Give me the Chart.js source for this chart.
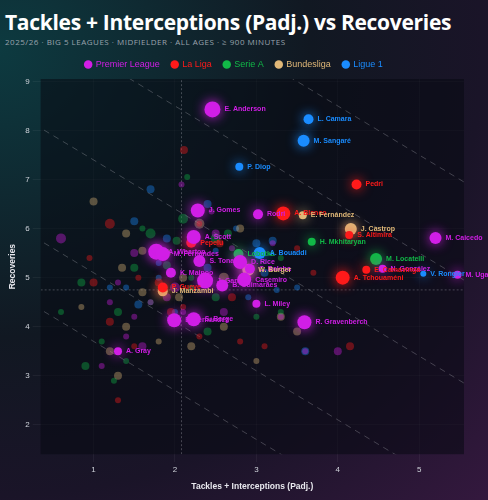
<!DOCTYPE html>
<html><head><meta charset="utf-8">
<script src="https://cdn.jsdelivr.net/npm/chart.js@4"></script>
<style>
html,body{margin:0;padding:0;width:488px;height:500px;overflow:hidden;
background:radial-gradient(ellipse at 0% 10%, #0d3a40 0%, #111822 45%, #1a1428 70%, #34183e 100%);font-family:"Open Sans",sans-serif}
#t{position:absolute;left:5px;top:8px;color:#fff;font:bold 21px "Open Sans",sans-serif;letter-spacing:-0.3px}
#s{position:absolute;left:5px;top:36px;color:#9aa3ad;font:8px "Open Sans",sans-serif;letter-spacing:0.5px}
#w{position:absolute;left:0;top:48px;width:488px;height:452px}
</style></head><body>
<div id="t">Tackles + Interceptions (Padj.) vs Recoveries</div>
<div id="s">2025/26 · BIG 5 LEAGUES · MIDFIELDER · ALL AGES · ≥ 900 MINUTES</div>
<div id="w"><canvas id="c"></canvas></div>
<script>
const leagues=["Premier League","La Liga","Serie A","Bundesliga","Ligue 1"];
const colors=["#d11ee6","#ff1a1a","#11b847","#e0b878","#1a8cff"];
// highlighted players: [name, x, y, radius]
const hlPL=[["E. Anderson",2.46,8.43,8],["J. Gomes",2.28,6.37,7],["Rodri",3.02,6.29,5],["M. Caicedo",5.2,5.81,6],["A. Scott",2.23,5.83,7],["A. Wharton",1.77,5.53,8],["M. Fernandes",1.85,5.48,7],["S. Tonali",2.3,5.34,6],["D. Rice",2.8,5.32,7],["C. Baleba",2.92,5.18,5],["N. González",4.55,5.18,4],["M. Ugarte",5.47,5.06,4],["K. Mainoo",1.95,5.1,5],["J. Garner",2.37,4.94,8],["Casemiro",2.85,4.96,7],["B. Guimarães",2.58,4.84,6],["L. Miley",3.0,4.47,4],["S. Berge",2.23,4.15,7],["E. Fernández",1.99,4.13,7],["R. Gravenberch",3.59,4.09,7],["A. Gray",1.3,3.5,4]];
const hlLL=[["A. Blanco",3.33,6.31,7],["Pedri",4.23,6.9,5],["S. Altimira",4.14,5.87,4],["Pepelu",2.2,5.71,5],["E. Camavinga",4.35,5.16,4],["A. Tchouaméni",4.06,5.0,7],["P. Gueye",1.85,4.8,5]];
const hlSA=[["H. Mkhitaryan",3.68,5.73,4],["Lobotka",2.78,5.48,5],["M. Locatelli",4.47,5.38,6]];
const hlBL=[["E. Fernández",3.57,6.27,4],["J. Castrop",4.16,5.99,6],["W. Burger",2.9,5.16,6],["J. Manzambi",1.85,4.72,5]];
const hlL1=[["L. Camara",3.64,8.23,5],["M. Sangaré",3.58,7.79,6],["P. Diop",2.79,7.26,4],["A. Bouaddi",3.04,5.5,6],["V. Rongier",5.05,5.08,3]];
// background (unlabelled) players: [x, y, radius]
const bgPL=[[2.08,6.9,3],[0.6,5.8,5],[1.5,5.5,4],[2.5,5.9,4],[1.3,4.9,3],[1.9,4.6,4],[2.1,4.3,3],[1.5,4.2,3],[1.1,3.2,3],[2.6,4.3,4],[3.2,5.7,3],[1.6,3.6,4],[2.0,4.8,5],[2.45,6.35,3],[1.4,3.8,3],[2.7,5.6,3],[3.3,4.2,3],[1.7,4.5,3],[3.6,3.5,3],[4.0,3.5,4],[1.2,4.5,3]];
const bgLL=[[1.2,6.1,5],[2.11,7.6,4],[0.95,5.4,3],[2.3,6.1,3],[1.55,5.0,3],[1.2,4.1,4],[1.3,2.5,3],[2.55,5.7,4],[1.8,4.9,4],[2.1,4.4,3],[2.7,4.6,4],[3.5,5.6,3],[1.0,4.9,4],[2.8,3.7,3],[3.1,3.6,3],[4.15,3.6,4],[1.5,3.6,3],[2.3,3.8,3],[1.95,4.3,4],[3.7,5.1,3],[2.9,5.0,3]];
const bgSA=[[2.15,7.05,3],[1.6,6.0,3],[2.02,5.75,4],[1.7,5.9,5],[2.1,6.2,5],[0.85,4.9,4],[1.5,5.2,4],[1.3,4.3,4],[1.1,3.7,3],[0.9,3.2,4],[2.2,4.8,3],[2.5,5.8,5],[2.65,5.9,4],[2.2,5.0,3],[1.7,4.5,3],[1.4,3.3,3],[2.5,4.6,4],[3.0,4.2,3],[3.3,4.3,3],[1.25,2.9,3],[2.4,3.9,4],[3.3,5.4,3],[1.9,5.25,4],[0.6,4.3,3]];
const bgBL=[[1.0,6.55,4],[1.4,5.9,4],[1.6,5.55,4],[2.3,6.1,5],[1.35,5.2,4],[1.6,4.7,4],[2.05,4.6,4],[1.4,4.0,4],[1.2,3.5,4],[1.3,3.0,4],[1.8,3.7,3],[2.8,6.0,4],[2.6,5.0,5],[2.0,4.1,4],[2.2,3.6,4],[2.6,4.0,4],[3.3,4.2,4],[3.5,3.9,4],[0.85,4.4,3],[3.0,3.3,3],[1.9,5.5,4],[2.1,5.0,4]];
const bgL1=[[2.4,6.5,4],[2.75,6.0,3],[1.7,6.8,4],[1.5,6.15,4],[1.9,5.8,4],[2.5,5.55,3],[3.0,5.7,4],[3.2,5.75,4],[1.8,5.3,3],[1.4,4.8,3],[2.4,5.2,4],[3.1,5.1,4],[1.2,4.8,3],[2.0,4.3,3],[1.55,4.45,4],[2.9,4.6,3],[3.5,4.8,3],[3.25,4.75,3],[3.6,3.5,4],[1.8,5.0,3]];
const diagSums=[4.7,6.1,8.4,10.5,12.5];
const xTicks=[1,2,3,4,5], yTicks=[2,3,4,5,6,7,8,9];
const xMin=0.35,xMax=5.55,yMin=1.4,yMax=9.05;

const hl=[hlPL,hlLL,hlSA,hlBL,hlL1], bg=[bgPL,bgLL,bgSA,bgBL,bgL1];
function alpha(c,a){const n=parseInt(c.slice(1),16);return `rgba(${n>>16},${(n>>8)&255},${n&255},${a})`;}
const datasets=[];
leagues.forEach((l,i)=>{
 datasets.push({label:l,type:'scatter',data:hl[i].map(p=>({x:p[1],y:p[2],name:p[0]})),pointRadius:hl[i].map(p=>p[3]),backgroundColor:colors[i],borderWidth:0,glow:true,order:1});
});
leagues.forEach((l,i)=>{
 datasets.push({label:'bg'+i,type:'scatter',data:bg[i].map(p=>({x:p[0],y:p[1]})),pointRadius:bg[i].map(p=>p[2]),backgroundColor:alpha(colors[i],0.38),borderWidth:0,order:2});
});
diagSums.forEach(s=>{
 datasets.push({label:'diag',type:'line',data:[{x:xMin-1,y:s-xMin+1},{x:xMax+1,y:s-xMax-1}],borderColor:'rgba(200,200,210,0.28)',borderDash:[6,5],borderWidth:1,pointRadius:0,order:3});
});
datasets.push({label:'refv',type:'line',data:[{x:2.08,y:yMin},{x:2.08,y:yMax}],borderColor:'rgba(200,200,210,0.3)',borderDash:[2,2],borderWidth:1,pointRadius:0,order:3});
datasets.push({label:'refh',type:'line',data:[{x:xMin,y:4.75},{x:xMax,y:4.75}],borderColor:'rgba(200,200,210,0.3)',borderDash:[2,2],borderWidth:1,pointRadius:0,order:3});

const glowPlugin={id:'glow',
 beforeDatasetDraw(ch,a){const ds=ch.data.datasets[a.index];if(ds.glow){ch.ctx.save();ch.ctx.shadowColor=ds.backgroundColor;ch.ctx.shadowBlur=12;}},
 afterDatasetDraw(ch,a){const ds=ch.data.datasets[a.index];if(ds.glow)ch.ctx.restore();}};
const areaPlugin={id:'area',beforeDatasetsDraw(ch){const {ctx,chartArea:c}=ch;ctx.save();ctx.fillStyle='rgba(8,10,18,0.55)';ctx.fillRect(c.left,c.top,c.right-c.left,c.bottom-c.top);ctx.restore();}};
const labelPlugin={id:'lbl',afterDatasetsDraw(ch){const ctx=ch.ctx;ctx.save();ctx.font='bold 7px "Liberation Sans",sans-serif';ctx.textBaseline='middle';
 for(let i=0;i<5;i++){const m=ch.getDatasetMeta(i);ctx.fillStyle=colors[i];m.data.forEach((el,j)=>{const r=hl[i][j][3];ctx.fillText(hl[i][j][0],el.x+r+4,el.y);});}
 ctx.restore();}};

new Chart(document.getElementById('c'),{data:{datasets},
 options:{responsive:true,maintainAspectRatio:false,animation:false,
  layout:{padding:{left:4,right:24,bottom:4}},
  plugins:{tooltip:{enabled:false},
   legend:{position:'top',labels:{usePointStyle:true,pointStyle:'circle',boxWidth:6,boxHeight:6,padding:12,font:{size:9,family:'"Liberation Sans",sans-serif'},
    filter:it=>it.datasetIndex<5,
    generateLabels:ch=>leagues.map((l,i)=>({text:l,fillStyle:colors[i],strokeStyle:colors[i],fontColor:colors[i],lineWidth:0,pointStyle:'circle',datasetIndex:i}))}}},
  scales:{
   x:{type:'linear',min:xMin,max:xMax,ticks:{color:'#cfd3da',font:{size:8}},grid:{color:'rgba(255,255,255,0.05)'},border:{display:false},
      afterBuildTicks:ax=>{ax.ticks=xTicks.map(v=>({value:v}));},
      title:{display:true,text:'Tackles + Interceptions (Padj.)',color:'#e8e8ee',font:{size:8.5,weight:'bold'}}},
   y:{type:'linear',min:yMin,max:yMax,ticks:{color:'#cfd3da',font:{size:8}},grid:{color:'rgba(255,255,255,0.05)'},border:{display:false},
      afterBuildTicks:ax=>{ax.ticks=yTicks.map(v=>({value:v}));},
      title:{display:true,text:'Recoveries',color:'#e8e8ee',font:{size:8.5,weight:'bold'}}}}},
 plugins:[areaPlugin,glowPlugin,labelPlugin]});
</script></body></html>
